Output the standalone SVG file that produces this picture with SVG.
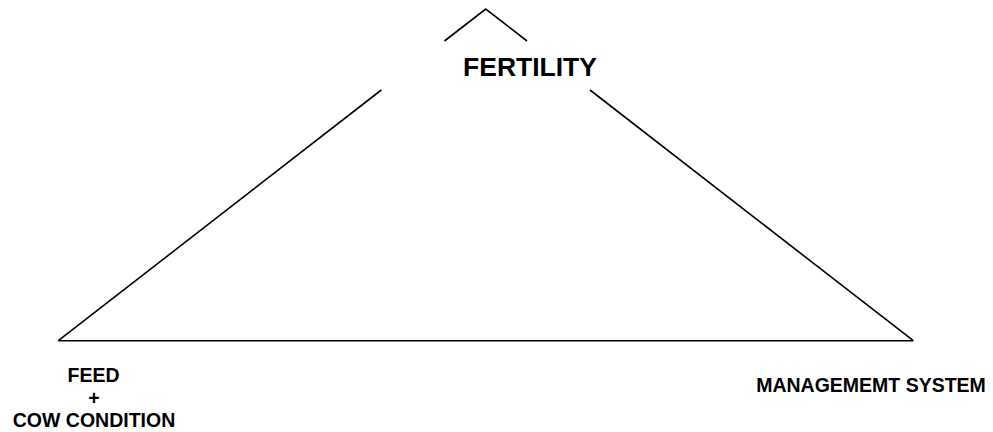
<svg xmlns="http://www.w3.org/2000/svg" width="993" height="432" viewBox="0 0 993 432">
<style>
.edge{stroke:#000;stroke-width:1.6;fill:none;stroke-linecap:butt}
.lbl{font-family:"Liberation Sans",Arial,sans-serif;font-weight:bold;fill:#000;text-anchor:middle}
.big{font-size:26.5px}
.sm{font-size:19.5px}
</style>
<rect width="993" height="432" fill="#fff"/>
<g id="connectors">
<polyline class="edge" points="444.5,41 485.7,9 527,41"/>
<line class="edge" x1="381.3" y1="90" x2="58.3" y2="340.7"/>
<line class="edge" x1="590" y1="90" x2="913.3" y2="340.7"/>
<line class="edge" x1="58.3" y1="340.7" x2="913.3" y2="340.7"/>
</g>
<g id="fertility">
<text class="lbl big" x="530" y="76">FERTILITY</text>
</g>
<g id="feed">
<text class="lbl sm" x="93.5" y="382">FEED</text>
<text class="lbl sm" x="94" y="404.5">+</text>
<text class="lbl sm" x="94" y="426.7">COW CONDITION</text>
</g>
<g id="management">
<text class="lbl sm" x="871" y="392">MANAGEMEMT SYSTEM</text>
</g>
</svg>
